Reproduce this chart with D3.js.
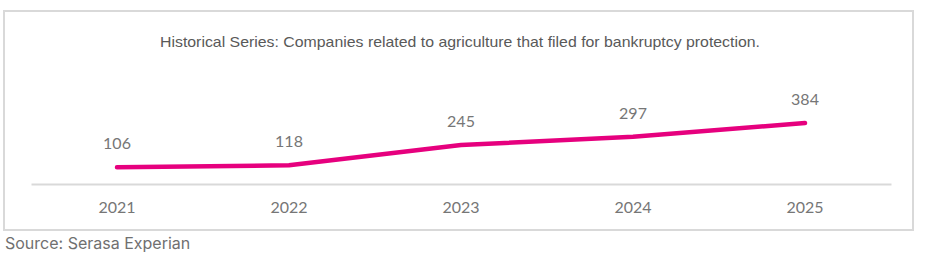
<!DOCTYPE html>
<html>
<head>
<meta charset="utf-8">
<script src="https://cdn.jsdelivr.net/npm/d3@7"></script>
<style>
  body { margin: 0; background: #fff; }
</style>
</head>
<body>
<div id="chart"></div>
<script>
const years = ["2021", "2022", "2023", "2024", "2025"];
const filings = [106, 118, 245, 297, 384];
const title = "Historical Series: Companies related to agriculture that filed for bankruptcy protection.";
const source = "Source: Serasa Experian";

const width = 925, height = 259;
const svg = d3.select("#chart").append("svg")
    .attr("width", width)
    .attr("height", height);

// outer frame
svg.append("rect")
    .attr("x", 4).attr("y", 11)
    .attr("width", 909).attr("height", 219)
    .attr("fill", "none")
    .attr("stroke", "#d9d9d9")
    .attr("stroke-width", 2);

svg.append("text")
    .attr("x", 460).attr("y", 47)
    .attr("text-anchor", "middle")
    .attr("textLength", 600)
    .attr("lengthAdjust", "spacingAndGlyphs")
    .style("font-family", "'Liberation Sans', sans-serif")
    .style("font-size", "15px")
    .style("fill", "#595959")
    .text(title);

const x = d3.scaleBand().domain(years).range([31, 891]);
const y = d3.scaleLinear().domain([0, 400]).range([184, 120.5]);

const xAxis = d3.axisBottom(x).tickSize(0).tickPadding(18);
const gx = svg.append("g")
    .attr("transform", "translate(0,184)")
    .call(xAxis);
gx.select(".domain").attr("stroke", "#d9d9d9").attr("stroke-width", 2);
gx.selectAll("text")
    .style("font-family", "Lato, sans-serif")
    .style("font-size", "16px")
    .style("fill", "#767676");

const cx = d => x(d) + x.bandwidth() / 2;

const line = d3.line()
    .x((d, i) => cx(years[i]))
    .y(d => y(d));

svg.append("path")
    .datum(filings)
    .attr("d", line)
    .attr("fill", "none")
    .attr("stroke", "#e6007e")
    .attr("stroke-width", 4.5)
    .attr("stroke-linecap", "round")
    .attr("stroke-linejoin", "round");

svg.selectAll(".lbl")
    .data(filings)
    .join("text")
    .attr("class", "lbl")
    .attr("x", (d, i) => cx(years[i]))
    .attr("y", d => y(d) - 18)
    .attr("text-anchor", "middle")
    .style("font-family", "Lato, sans-serif")
    .style("font-size", "16px")
    .style("fill", "#767676")
    .text(d => d);

svg.append("text")
    .attr("x", 5).attr("y", 249)
    .style("font-family", "Inter, sans-serif")
    .style("font-size", "16px")
    .style("fill", "#707070")
    .text(source);
</script>
</body>
</html>
